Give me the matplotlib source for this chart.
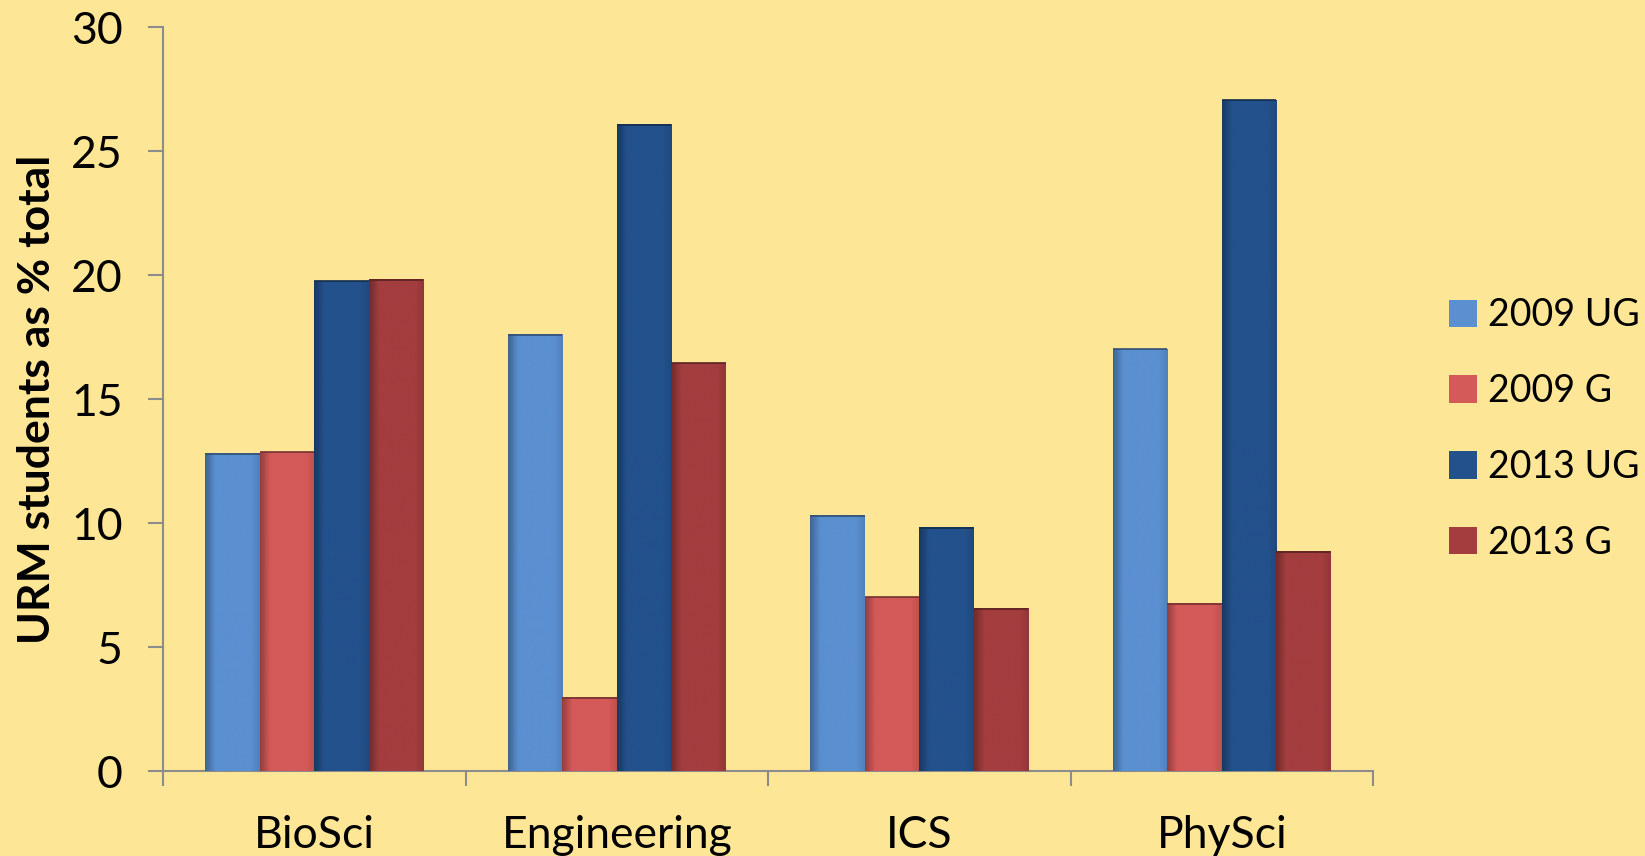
import numpy as np
import matplotlib.pyplot as plt
from matplotlib.colors import to_rgb
from matplotlib.patches import Patch

plt.rcParams['font.family'] = ['Lato', 'DejaVu Sans']

categories = ['BioSci', 'Engineering', 'ICS', 'PhySci']
series = ['2009 UG', '2009 G', '2013 UG', '2013 G']
ug_2009 = [12.8, 17.6, 10.3, 17.0]
g_2009 = [12.85, 2.95, 7.0, 6.75]
ug_2013 = [19.75, 26.05, 9.8, 27.05]
g_2013 = [19.8, 16.45, 6.55, 8.85]
colors = ['#5a8fd0', '#d35a58', '#23518c', '#a33d3e']
bg = '#fee697'

fig = plt.figure(figsize=(16.45, 8.56), dpi=100, facecolor=bg)
ax = fig.add_axes([163 / 1645, 1 - 771 / 856, (1373 - 163) / 1645, (771 - 27) / 856])
ax.set_facecolor(bg)

x = np.arange(len(categories))
width = 0.18
values = [ug_2009, g_2009, ug_2013, g_2013]

grad = np.linspace(0, 1, 64)
for i, (vals, col) in enumerate(zip(values, colors)):
    bars = ax.bar(x + (i - 1.5) * width, vals, width, color=col,
                  edgecolor='none', zorder=2)
    rgb = np.array(to_rgb(col))
    # shaded bar face: dark left edge fading into the base colour
    t = np.clip(grad / 0.18, 0, 1)
    img = np.ones((1, 64, 4))
    img[0, :, :3] = (rgb * 0.7) * (1 - t)[:, None] + rgb * t[:, None]
    rt = np.clip((grad - 0.85) / 0.15, 0, 1)
    img[0, :, :3] *= (1 - 0.1 * rt)[:, None]
    for b in bars:
        x0, h, w = b.get_x(), b.get_height(), b.get_width()
        ax.imshow(img, extent=[x0, x0 + w, 0, h], aspect='auto',
                  zorder=3, interpolation='bilinear')
        ax.plot([x0, x0 + w], [h, h], color=tuple(rgb * 0.55), lw=1.2,
                zorder=4, solid_capstyle='butt')

ax.set_xlim(-0.5, len(categories) - 0.5)
ax.set_ylim(0, 30)
ax.set_yticks(np.arange(0, 31, 5))
ax.set_xticks(x)
ax.set_xticklabels(categories)
ax.set_xticks(np.arange(-0.5, len(categories)), minor=True)
ax.tick_params(axis='x', which='major', length=0, pad=32, labelsize=32)
ax.tick_params(axis='x', which='minor', length=11, width=1.5, color='#8c8c8c')
ax.tick_params(axis='y', length=11, width=1.5, color='#8c8c8c', labelsize=32, pad=18)

for side in ['top', 'right']:
    ax.spines[side].set_visible(False)
for side in ['left', 'bottom']:
    ax.spines[side].set_color('#8c8c8c')
    ax.spines[side].set_linewidth(1.5)

ax.set_ylabel('URM students as % total', fontsize=32, fontweight='bold', labelpad=10)

handles = [Patch(facecolor=c, edgecolor='none') for c in colors]
fig.legend(handles, series, loc='center left', bbox_to_anchor=(1415 / 1645, 1 - 429 / 856),
           frameon=False, fontsize=27, handlelength=0.75, handleheight=0.75,
           handletextpad=0.3, labelspacing=1.06)

fig.savefig('out.png', dpi=100, facecolor=bg)
